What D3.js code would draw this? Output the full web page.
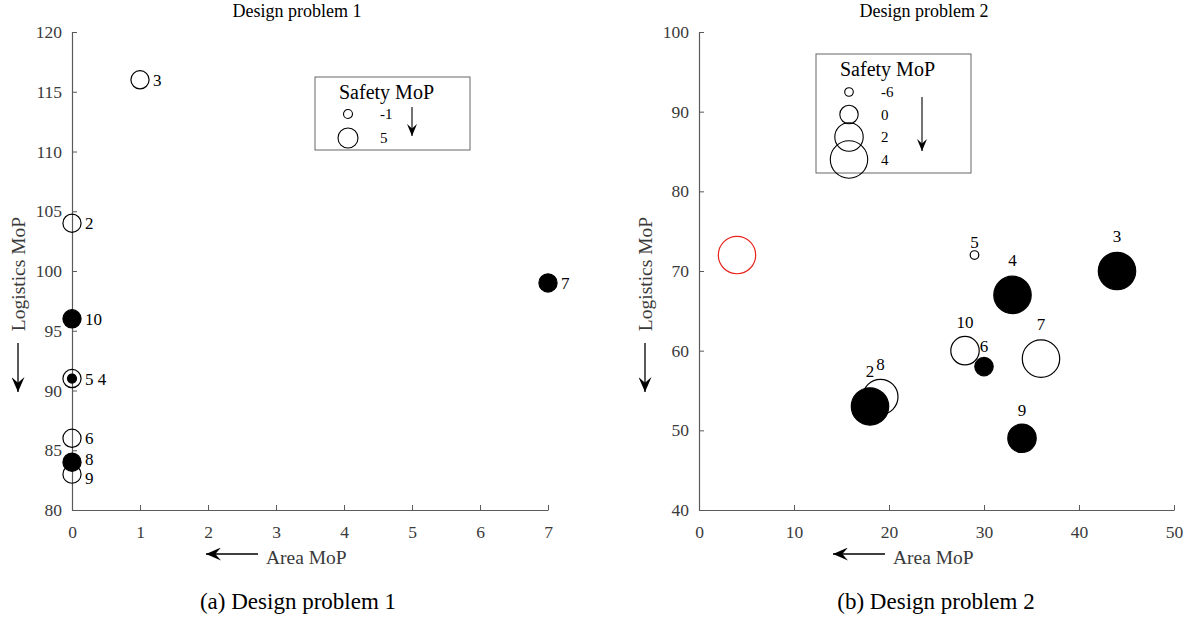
<!DOCTYPE html>
<html>
<head>
<meta charset="utf-8">
<script src="https://cdn.jsdelivr.net/npm/d3@7"></script>
<style>
  body { margin: 0; background: #fff; }
  svg { font-family: "Liberation Serif", "Times New Roman", serif; }
</style>
</head>
<body>
<div id="wrapper"></div>
<script>
// Design problem 1
const p1Labels    = ["3", "2", "7", "10", "5", "4", "6", "8", "9"];
const p1Area      = [1, 0, 7, 0, 0, 0, 0, 0, 0];
const p1Logistics = [116, 104, 99, 96, 91, 91, 86, 84, 83];
const p1Safety    = [4, 4, 4, 4, 4, -1, 4, 4, 4];
const p1Filled    = [false, false, true, true, false, true, false, true, false];
const p1LegendValues = [-1, 5];
const p1XTicks = [0, 1, 2, 3, 4, 5, 6, 7];
const p1YTicks = [80, 85, 90, 95, 100, 105, 110, 115, 120];

// Design problem 2
const p2Labels    = ["", "5", "8", "2", "3", "4", "10", "6", "7", "9"];
const p2Area      = [4, 29, 19.1, 18, 44, 33, 28, 30, 36, 34];
const p2Logistics = [72, 72, 54.2, 53, 70, 67, 60, 58, 59, 49];
const p2Safety    = [4, -6, 3.5, 4, 4, 4, 2, 0, 4, 2];
const p2Filled    = [false, false, false, true, true, true, false, true, false, true];
const p2Reference = [true, false, false, false, false, false, false, false, false, false];
const p2LegendValues = [-6, 0, 2, 4];
const p2XTicks = [0, 10, 20, 30, 40, 50];
const p2YTicks = [40, 50, 60, 70, 80, 90, 100];

const zip = (labels, xs, ys, s, f, ref) => labels.map((l, i) => ({
  label: l, x: xs[i], y: ys[i], safety: s[i], filled: f[i], reference: ref ? ref[i] : false,
}));

const svg = d3.select("#wrapper")
  .append("svg")
  .attr("width", 1189)
  .attr("height", 618);

// arrowheads like matlab's "vback2"
const defs = svg.append("defs");
function arrowMarker(id, len, half) {
  defs.append("marker")
    .attr("id", id)
    .attr("viewBox", `${-len} ${-half} ${len} ${half * 2}`)
    .attr("refX", 0).attr("refY", 0)
    .attr("markerUnits", "userSpaceOnUse")
    .attr("markerWidth", len).attr("markerHeight", half * 2)
    .attr("orient", "auto")
    .append("path")
    .attr("d", `M0,0 L${-len},${-half} L${-len * 0.62},0 L${-len},${half} Z`)
    .attr("fill", "#000");
}
arrowMarker("bigArrow", 15, 6.5);
arrowMarker("smallArrow", 12, 5);

const axisColor = "#5a5a5a";
const textColor = "#3a3a3a";

function drawPanel(cfg) {
  const xScale = d3.scaleLinear().domain(cfg.xDomain).range([cfg.x0, cfg.x1]);
  const yScale = d3.scaleLinear().domain(cfg.yDomain).range([510, 32]);
  const rScale = d3.scaleLinear().domain(cfg.rDomain).range(cfg.rRange);

  const g = svg.append("g");

  // axes, ticks pointing inwards
  const yAxis = g.append("g")
    .attr("transform", `translate(${cfg.x0},0)`)
    .call(d3.axisLeft(yScale).tickValues(cfg.yTicks).tickFormat(d3.format("d"))
      .tickSizeInner(-5).tickSizeOuter(0).tickPadding(10));
  const xAxis = g.append("g")
    .attr("transform", `translate(0,510)`)
    .call(d3.axisBottom(xScale).tickValues(cfg.xTicks).tickFormat(d3.format("d"))
      .tickSizeInner(-5).tickSizeOuter(0).tickPadding(16));
  [xAxis, yAxis].forEach(a => {
    a.select(".domain").attr("stroke", axisColor).attr("stroke-width", 1.2);
    a.selectAll(".tick line").attr("stroke", axisColor);
    a.selectAll(".tick text")
      .attr("fill", textColor)
      .style("font-family", "Liberation Serif")
      .style("font-size", "17.5px");
  });

  // titles
  g.append("text")
    .attr("x", cfg.titleX).attr("y", 17)
    .attr("text-anchor", "middle")
    .style("font-size", "18px")
    .text(cfg.title);
  g.append("text")
    .attr("x", cfg.captionX).attr("y", 609)
    .attr("text-anchor", "middle")
    .style("font-size", "23px")
    .text(cfg.caption);

  // axis labels with their direction arrows
  g.append("text")
    .attr("transform", `translate(${cfg.x0 - 54},274) rotate(-90)`)
    .attr("text-anchor", "middle")
    .attr("dy", "0.35em")
    .attr("fill", textColor)
    .style("font-size", "19.5px")
    .text("Logistics MoP");
  g.append("line")
    .attr("x1", cfg.x0 - 54).attr("x2", cfg.x0 - 54)
    .attr("y1", 343).attr("y2", 392)
    .attr("stroke", "#000").attr("stroke-width", 1.3)
    .attr("marker-end", "url(#bigArrow)");

  g.append("text")
    .attr("x", cfg.x0 + 194).attr("y", 557)
    .attr("dy", "0.35em")
    .attr("fill", textColor)
    .style("font-size", "19.5px")
    .text("Area MoP");
  g.append("line")
    .attr("x1", cfg.x0 + 186).attr("x2", cfg.x0 + 134)
    .attr("y1", 554).attr("y2", 554)
    .attr("stroke", "#000").attr("stroke-width", 1.3)
    .attr("marker-end", "url(#bigArrow)");

  // open circles first, filled on top
  const data = cfg.data.slice().sort((a, b) => (a.filled - b.filled) || (rScale(b.safety) - rScale(a.safety)));
  g.append("g").selectAll("circle")
    .data(data)
    .join("circle")
    .attr("cx", d => xScale(d.x))
    .attr("cy", d => yScale(d.y))
    .attr("r", d => rScale(d.safety))
    .attr("fill", d => d.filled ? "#000" : "none")
    .attr("stroke", d => d.reference ? "#e8221c" : "#000")
    .attr("stroke-width", 1.2);

  // labels
  if (cfg.labelSide === "right") {
    // points on the same spot share one label, e.g. "5 4"
    const groups = d3.groups(cfg.data.filter(d => d.label), d => `${d.x},${d.y}`)
      .map(([, ds]) => ({
        text: ds.map(d => d.label).join(" "),
        x: xScale(ds[0].x) + d3.max(ds, d => rScale(d.safety)) + 4,
        y: yScale(ds[0].y),
      }))
      .sort((a, b) => a.y - b.y);
    // spread labels that sit too close in one column
    const gap = 19;
    for (let i = 1; i < groups.length; i++) {
      const prev = groups[i - 1], cur = groups[i];
      const overlap = gap - (cur.y - prev.y);
      if (Math.abs(prev.x - cur.x) < 20 && overlap > 0) {
        prev.y -= overlap / 2;
        cur.y += overlap / 2;
      }
    }
    g.append("g").selectAll("text")
      .data(groups)
      .join("text")
      .attr("x", d => d.x)
      .attr("y", d => d.y)
      .attr("dy", "0.35em")
      .style("font-size", "17px")
      .text(d => d.text);
  } else {
    g.append("g").selectAll("text")
      .data(cfg.data.filter(d => d.label))
      .join("text")
      .attr("x", d => xScale(d.x))
      .attr("y", d => yScale(d.y) - 1.5 * rScale(d.safety) - 1)
      .attr("text-anchor", "middle")
      .style("font-size", "17px")
      .text(d => d.label);
  }

  // size legend
  const lg = g.append("g").attr("transform", `translate(${cfg.legend.left},${cfg.legend.top})`);
  lg.append("rect")
    .attr("width", 155).attr("height", cfg.legend.height)
    .attr("fill", "#fff").attr("stroke", "#666").attr("stroke-width", 1);
  lg.append("text")
    .attr("x", 24).attr("y", 22)
    .style("font-size", "20px")
    .text("Safety MoP");
  const rows = lg.append("g").selectAll("g")
    .data(cfg.legendValues)
    .join("g")
    .attr("transform", (d, i) => `translate(0,${cfg.legend.firstRow + i * cfg.legend.step})`);
  rows.append("circle")
    .attr("cx", 33)
    .attr("r", d => rScale(d))
    .attr("fill", "none")
    .attr("stroke", "#000")
    .attr("stroke-width", 1.1);
  rows.append("text")
    .attr("x", 65)
    .attr("dy", "0.35em")
    .style("font-size", "15px")
    .text(d => d);
  lg.append("line")
    .attr("x1", cfg.legend.arrowX).attr("x2", cfg.legend.arrowX)
    .attr("y1", cfg.legend.arrowY[0]).attr("y2", cfg.legend.arrowY[1])
    .attr("stroke", "#000").attr("stroke-width", 1.1)
    .attr("marker-end", "url(#smallArrow)");
}

drawPanel({
  data: zip(p1Labels, p1Area, p1Logistics, p1Safety, p1Filled),
  xDomain: [0, 7], yDomain: [80, 120], x0: 72, x1: 548,
  xTicks: p1XTicks, yTicks: p1YTicks,
  rDomain: [-1, 5], rRange: [4.5, 10],
  title: "Design problem 1", titleX: 297,
  caption: "(a) Design problem 1", captionX: 298,
  labelSide: "right",
  legendValues: p1LegendValues,
  legend: { left: 315, top: 77, height: 73, firstRow: 37, step: 24, arrowX: 97, arrowY: [30, 59] },
});

drawPanel({
  data: zip(p2Labels, p2Area, p2Logistics, p2Safety, p2Filled, p2Reference),
  xDomain: [0, 50], yDomain: [40, 100], x0: 699, x1: 1174,
  xTicks: p2XTicks, yTicks: p2YTicks,
  rDomain: [-6, 0, 2, 4], rRange: [4.3, 9.2, 14.2, 18.7],
  title: "Design problem 2", titleX: 924,
  caption: "(b) Design problem 2", captionX: 936,
  labelSide: "top",
  legendValues: p2LegendValues,
  legend: { left: 816, top: 54, height: 119, firstRow: 38, step: 22.5, arrowX: 106, arrowY: [43, 97] },
});
</script>
</body>
</html>
